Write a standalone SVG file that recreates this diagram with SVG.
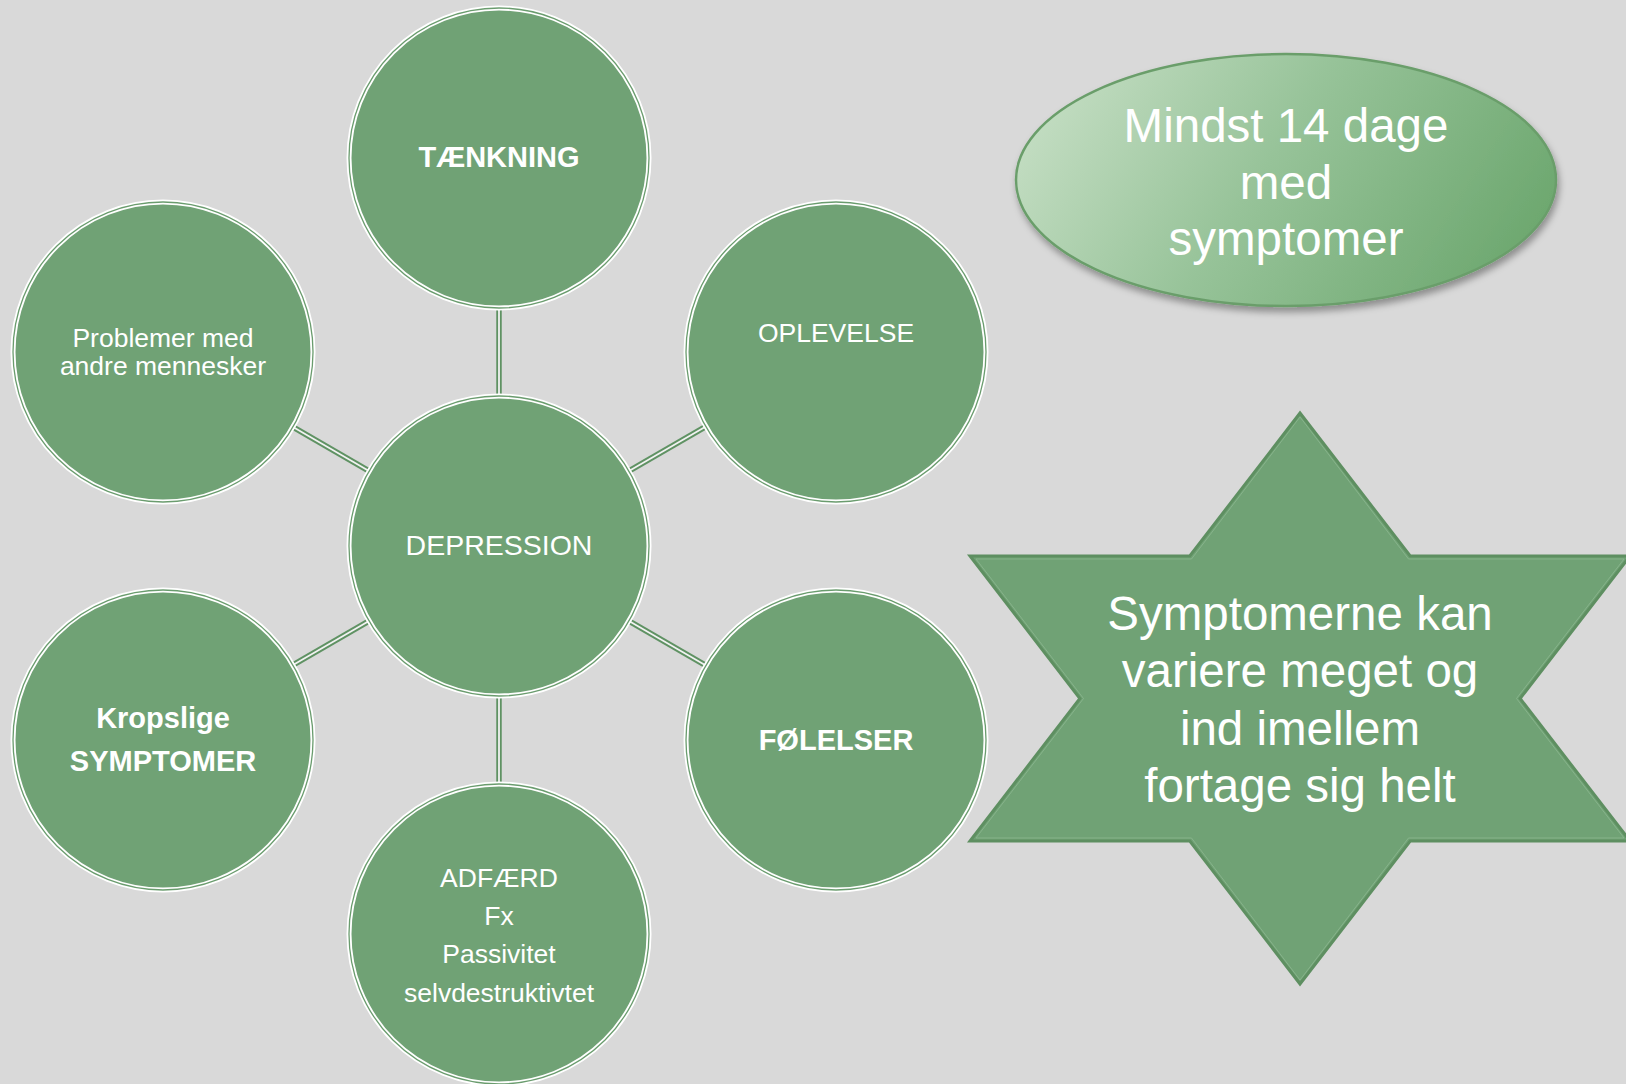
<svg xmlns="http://www.w3.org/2000/svg" width="1626" height="1084" viewBox="0 0 1626 1084">
  <defs>
    <style>
      .bg { fill: #D9D9D9; }
      .circ { fill: #70A275; }
      .ring-w { fill: none; stroke: #FFFFFF; stroke-width: 5; }
      .ring-g { fill: none; stroke: #6A9C6E; stroke-width: 1.3; }
      .con-g { stroke: #5F9263; stroke-width: 5.5; fill: none; }
      .con-w { stroke: #F2F2F2; stroke-width: 1.8; fill: none; }
      .t { font-family: "Liberation Sans", Arial, sans-serif; fill: #FFFFFF; text-anchor: middle; }
      .reg { font-size: 26.5px; }
      .bold { font-size: 29px; font-weight: bold; }
      .big { font-size: 47.5px; }
      .star { fill: #70A275; stroke: #5E8F61; stroke-width: 3; stroke-linejoin: miter; }
      .star-in { fill: none; stroke: #8DB890; stroke-width: 0.8; }
    </style>
    <linearGradient id="ellGrad" x1="0" y1="0.35" x2="1" y2="0.65">
      <stop offset="0" stop-color="#C3DDC2"/>
      <stop offset="0.45" stop-color="#97C399"/>
      <stop offset="1" stop-color="#6CA76E"/>
    </linearGradient>
    <filter id="shadow" x="-10%" y="-10%" width="125%" height="130%">
      <feDropShadow dx="2" dy="5" stdDeviation="3.5" flood-color="#000000" flood-opacity="0.35"/>
    </filter>
  </defs>

  <rect class="bg" x="0" y="0" width="1626" height="1084"/>

  <g id="connectors">
    <line class="con-g" x1="499" y1="396" x2="499" y2="308"/>
    <line class="con-w" x1="499" y1="396" x2="499" y2="308"/>
    <line class="con-g" x1="499" y1="696" x2="499" y2="784"/>
    <line class="con-w" x1="499" y1="696" x2="499" y2="784"/>
    <line class="con-g" x1="369" y1="471" x2="293" y2="427"/>
    <line class="con-w" x1="369" y1="471" x2="293" y2="427"/>
    <line class="con-g" x1="629" y1="471" x2="705" y2="427"/>
    <line class="con-w" x1="629" y1="471" x2="705" y2="427"/>
    <line class="con-g" x1="369" y1="621" x2="293" y2="665"/>
    <line class="con-w" x1="369" y1="621" x2="293" y2="665"/>
    <line class="con-g" x1="629" y1="621" x2="705" y2="665"/>
    <line class="con-w" x1="629" y1="621" x2="705" y2="665"/>
  </g>

  <g id="node-taenkning">
    <circle class="circ" cx="499" cy="158" r="150"/>
    <circle class="ring-w" cx="499" cy="158" r="150"/>
    <circle class="ring-g" cx="499" cy="158" r="150"/>
    <text class="t bold" x="499" y="167">TÆNKNING</text>
  </g>

  <g id="node-problemer">
    <circle class="circ" cx="163" cy="352" r="150"/>
    <circle class="ring-w" cx="163" cy="352" r="150"/>
    <circle class="ring-g" cx="163" cy="352" r="150"/>
    <text class="t reg" x="163" y="347">Problemer med</text>
    <text class="t reg" x="163" y="375">andre mennesker</text>
  </g>

  <g id="node-oplevelse">
    <circle class="circ" cx="836" cy="352" r="150"/>
    <circle class="ring-w" cx="836" cy="352" r="150"/>
    <circle class="ring-g" cx="836" cy="352" r="150"/>
    <text class="t reg" x="836" y="342">OPLEVELSE</text>
  </g>

  <g id="node-depression">
    <circle class="circ" cx="499" cy="546" r="150"/>
    <circle class="ring-w" cx="499" cy="546" r="150"/>
    <circle class="ring-g" cx="499" cy="546" r="150"/>
    <text class="t" style="font-size:28.5px" x="499" y="555">DEPRESSION</text>
  </g>

  <g id="node-kropslige">
    <circle class="circ" cx="163" cy="740" r="150"/>
    <circle class="ring-w" cx="163" cy="740" r="150"/>
    <circle class="ring-g" cx="163" cy="740" r="150"/>
    <text class="t bold" x="163" y="728">Kropslige</text>
    <text class="t bold" x="163" y="771">SYMPTOMER</text>
  </g>

  <g id="node-foelelser">
    <circle class="circ" cx="836" cy="740" r="150"/>
    <circle class="ring-w" cx="836" cy="740" r="150"/>
    <circle class="ring-g" cx="836" cy="740" r="150"/>
    <text class="t bold" x="836" y="750">FØLELSER</text>
  </g>

  <g id="node-adfaerd">
    <circle class="circ" cx="499" cy="934" r="150"/>
    <circle class="ring-w" cx="499" cy="934" r="150"/>
    <circle class="ring-g" cx="499" cy="934" r="150"/>
    <text class="t reg" x="499" y="887">ADFÆRD</text>
    <text class="t reg" x="499" y="925">Fx</text>
    <text class="t reg" x="499" y="963">Passivitet</text>
    <text class="t reg" x="499" y="1002">selvdestruktivtet</text>
  </g>

  <g id="node-mindst">
    <ellipse cx="1286" cy="180" rx="270" ry="126" fill="url(#ellGrad)" stroke="#6A9E6B" stroke-width="2.5" filter="url(#shadow)"/>
    <text class="t big" x="1286" y="142">Mindst 14 dage</text>
    <text class="t big" x="1286" y="198.5">med</text>
    <text class="t big" x="1286" y="255">symptomer</text>
  </g>

  <g id="node-star">
    <polygon class="star" points="1300,413 1410.2,556 1630,556 1520.1,698.5 1630,841 1410.2,841 1300,984 1189.8,841 970,841 1079.9,698.5 970,556 1189.8,556"/>
    <polygon class="star-in" points="1300,417 1408.5,559 1624,559 1516.5,698.5 1624,838 1408.5,838 1300,980 1191.5,838 976,838 1083.5,698.5 976,559 1191.5,559"/>
    <text class="t big" x="1300" y="630">Symptomerne kan</text>
    <text class="t big" x="1300" y="687">variere meget og</text>
    <text class="t big" x="1300" y="745">ind imellem</text>
    <text class="t big" x="1300" y="802">fortage sig helt</text>
  </g>
</svg>
